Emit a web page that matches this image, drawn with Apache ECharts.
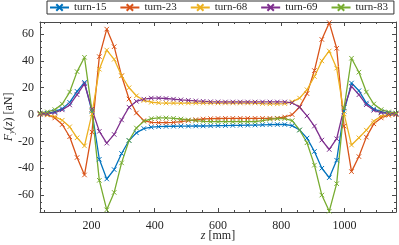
<!DOCTYPE html>
<html><head><meta charset="utf-8">
<script src="https://cdn.jsdelivr.net/npm/echarts@6/dist/echarts.min.js"></script>
<style>html,body{margin:0;padding:0;background:#fff}#c{width:399px;height:245px}</style>
</head><body><div id="c"></div>
<script>
const z = [37.5, 60.9, 84.4, 107.8, 131.3, 154.7, 178.1, 201.6, 225, 248.4, 271.9, 295.3, 318.8, 342.2, 365.6, 389.1, 412.5, 435.9, 459.4, 482.8, 506.3, 529.7, 553.1, 576.6, 600, 623.4, 646.9, 670.3, 693.8, 717.2, 740.6, 764.1, 787.5, 810.9, 834.4, 857.8, 881.3, 904.7, 928.1, 951.6, 975, 998.4, 1021.9, 1045.3, 1068.8, 1092.2, 1115.6, 1139.1, 1162.5];
const turn15 = [0.7, 0.9, 2.2, 4.4, 9.1, 17.3, 24.0, 2.5, -33.3, -48.0, -41.0, -29.0, -19.3, -13.6, -10.4, -9.4, -9.0, -8.8, -8.7, -8.6, -8.6, -8.5, -8.5, -8.4, -8.3, -8.2, -8.1, -8.0, -7.9, -7.8, -7.6, -7.5, -7.4, -7.4, -8.2, -11.5, -17.5, -27.5, -40.0, -47.0, -34.0, 2.5, 23.5, 17.8, 8.6, 4.2, 2.0, 1.2, 0.8];
const turn23 = [0.5, 0.0, -2.5, -7.4, -16.5, -32.0, -45.0, -13.0, 43.2, 63.7, 50.6, 28.9, 11.6, 1.2, -4.5, -5.8, -6.0, -6.0, -5.8, -5.2, -4.5, -3.8, -3.3, -3.0, -2.9, -2.8, -2.8, -2.8, -2.8, -2.8, -2.8, -2.8, -2.7, -1.8, 0.0, 5.7, 15.6, 32.8, 56.0, 68.5, 49.4, -8.6, -42.5, -31.3, -16.8, -6.9, -2.5, -0.5, 0.0];
const turn68 = [0.0, -0.3, -1.5, -4.2, -9.1, -17.3, -23.3, 0.5, 33.8, 48.1, 41.2, 28.9, 20.0, 14.0, 10.5, 9.2, 8.8, 8.6, 8.6, 8.6, 8.6, 8.6, 8.6, 8.6, 8.6, 8.6, 8.6, 8.6, 8.6, 8.6, 8.2, 8.0, 8.0, 8.2, 9.5, 12.3, 18.5, 28.4, 40.0, 47.4, 34.6, 0.5, -22.7, -17.3, -11.6, -4.9, -1.2, 0.0, 0.3];
const turn69 = [0.3, 0.5, 1.5, 3.5, 7.2, 14.8, 23.0, 4.0, -12.5, -21.3, -14.8, -4.0, 5.5, 9.9, 11.5, 12.3, 12.3, 12.0, 11.5, 11.0, 10.6, 10.2, 9.9, 9.6, 9.5, 9.4, 9.4, 9.4, 9.4, 9.4, 9.4, 9.4, 9.4, 9.4, 8.8, 5.5, -1.0, -8.6, -19.0, -26.0, -18.0, 5.0, 21.0, 14.8, 7.4, 3.2, 1.5, 0.7, 0.4];
const turn83 = [1.2, 2.0, 3.7, 7.9, 16.8, 32.0, 42.7, 3.0, -49.0, -71.0, -58.0, -36.0, -19.3, -10.0, -5.0, -3.0, -2.5, -2.5, -2.8, -3.3, -4.0, -4.5, -5.0, -5.3, -5.3, -5.3, -5.3, -5.3, -5.3, -5.3, -4.5, -3.5, -3.0, -3.0, -4.5, -11.5, -21.0, -37.7, -60.0, -72.0, -51.5, 5.0, 42.0, 31.6, 16.8, 7.9, 3.7, 2.0, 1.2];
const seriesNames = ['turn-15', 'turn-23', 'turn-68', 'turn-69', 'turn-83'];
const xMajor = [200, 400, 600, 800, 1000];
const xMinor = [50, 100, 150, 250, 300, 350, 450, 500, 550, 650, 700, 750, 850, 900, 950, 1050, 1100, 1150];
const yMajor = [-60, -40, -20, 0, 20, 40, 60];
const yMinor = [-70, -65, -55, -50, -45, -35, -30, -25, -15, -10, -5, 5, 10, 15, 25, 30, 35, 45, 50, 55, 65];

const colors = ['#0072BD', '#D95319', '#EDB120', '#7E2F8E', '#77AC30'];
const values = [turn15, turn23, turn68, turn69, turn83];
const FONT = 'Liberation Serif';
const AX = '#4a4a4a';
const XMIN = 37.5, XMAX = 1162.5, YMIN = -72.6, YMAX = 69;

function ax(kind, pos, ticks, len, showLine, showLabel, extra) {
  return Object.assign({
    type: 'value', min: kind === 'x' ? XMIN : YMIN, max: kind === 'x' ? XMAX : YMAX, position: pos, gridIndex: 0,
    axisLine: {show: showLine, onZero: false, lineStyle: {color: AX, width: 1}},
    axisTick: {show: true, inside: true, length: len, customValues: ticks, lineStyle: {color: AX, width: 1}},
    axisLabel: showLabel ? {show: true, customValues: ticks, formatter: v => String(v), fontFamily: FONT, fontSize: 12, color: '#262626', margin: kind === 'x' ? 8 : 6} : {show: false},
    splitLine: {show: false}
  }, extra || {});
}

const option = {
  animation: false,
  backgroundColor: '#fff',
  grid: {left: 40, right: 3, top: 22, bottom: 33, containLabel: false, outerBoundsMode: 'none'},
  legend: {
    data: seriesNames, top: 1, left: 47, width: 344, orient: 'horizontal',
    itemWidth: 19, itemHeight: 8, itemGap: 13,
    padding: [1, 6, 1, 2],
    borderColor: '#333', borderWidth: 1, backgroundColor: '#fff',
    textStyle: {fontFamily: FONT, fontSize: 11, color: '#262626'}
  },
  xAxis: [
    ax('x', 'bottom', xMajor, 4, true, true, {
      name: '{i|z} [mm]', nameLocation: 'middle', nameGap: 18, nameMoveOverlap: false,
      nameTextStyle: {fontFamily: FONT, fontSize: 12, color: '#262626', rich: {i: {fontFamily: FONT, fontStyle: 'italic', fontSize: 12, color: '#262626'}}}
    }),
    ax('x', 'bottom', xMinor, 2, false, false),
    ax('x', 'top', xMajor, 4, true, false),
    ax('x', 'top', xMinor, 2, false, false)
  ],
  yAxis: [
    ax('y', 'left', yMajor, 4, true, true, {
      name: '{i|F}{s|y}({i|z}) [aN]', nameLocation: 'middle', nameGap: 24, nameRotate: 90, nameMoveOverlap: false,
      nameTextStyle: {fontFamily: FONT, fontSize: 12, color: '#262626', rich: {
        i: {fontFamily: FONT, fontStyle: 'italic', fontSize: 12, color: '#262626'},
        s: {fontFamily: FONT, fontStyle: 'italic', fontSize: 8.5, color: '#262626', verticalAlign: 'bottom', padding: [6, 0, 0, 0]}
      }}
    }),
    ax('y', 'left', yMinor, 2, false, false),
    ax('y', 'right', yMajor, 4, true, false),
    ax('y', 'right', yMinor, 2, false, false)
  ],
  series: seriesNames.map((n, k) => ({
    name: n, type: 'line', xAxisIndex: 0, yAxisIndex: 0,
    data: z.map((x, i) => [x, values[k][i]]),
    showAllSymbol: true,
    symbol: 'path://M0,0L10,10M10,0L0,10',
    symbolSize: 4.5,
    itemStyle: {color: colors[k], borderColor: colors[k], borderWidth: 1},
    lineStyle: {color: colors[k], width: 1.3},
    emphasis: {disabled: true}
  }))
};
const chart = echarts.init(document.getElementById('c'), null, {renderer: 'canvas'});
chart.setOption(option);
</script>
</body></html>
